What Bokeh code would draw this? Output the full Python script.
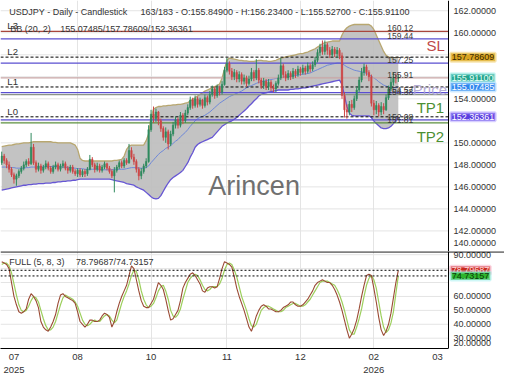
from bokeh.plotting import figure
from bokeh.layouts import column
from bokeh.models import (Span, Label, FixedTicker, Range1d, ColumnDataSource, Grid,
                          PrintfTickFormatter, LinearAxis)
from bokeh.core.properties import value
from bokeh.embed import file_html
from bokeh.resources import INLINE

FONT = "Liberation Sans"

# ---------------- data ----------------
symbol_title = "USDJPY - Daily - Candlestick"
bar_info = "163/183 - O:155.84900 - H:156.23400 - L:155.52700 - C:155.91100"
bb_title = "BB (20, 2)"
bb_values_text = "155.07485/157.78609/152.36361"
stoch_title = "FULL (5, 8, 3)"
stoch_values_text = "78.79687/74.73157"
watermark = "Arincen"

total_slots = 183

opens = [148.2, 148.8, 148.4, 148.0, 147.6, 147.1, 146.7, 147.0, 147.4, 147.7,
         148.0, 148.3, 148.1, 149.6, 148.2, 147.6, 147.9, 147.5, 147.8, 148.1,
         147.7, 147.4, 147.8, 148.0, 147.6, 147.9, 148.1, 147.7, 147.5, 147.8,
         147.4, 147.2, 147.5, 147.1, 147.4, 147.2, 147.6, 148.5, 148.0, 147.6,
         147.9, 147.5, 147.8, 148.1, 147.7, 147.4, 147.0, 147.5, 147.8, 148.2,
         147.9, 148.4, 148.2, 149.3, 148.7, 148.3, 147.6, 147.0, 147.4, 147.9,
         148.3, 151.2, 152.6, 152.2, 152.8, 152.0, 151.3, 150.5, 151.0, 149.9,
         150.8, 151.6, 152.1, 151.6, 152.5, 152.0, 152.7, 153.2, 153.9, 153.4,
         154.0, 153.5, 153.9, 153.4, 154.1, 153.7, 154.4, 154.9, 154.3, 155.0,
         154.6, 155.3, 156.6, 157.2, 156.5, 156.0, 156.4, 155.8, 156.2, 155.6,
         155.9, 155.4, 155.8, 156.4, 155.9, 156.6, 155.7, 155.2, 155.6, 155.1,
         155.5, 155.0, 154.9, 155.4, 155.9, 157.0, 156.2, 155.9, 156.3, 156.0,
         156.5, 156.2, 156.7, 156.4, 156.8, 156.5, 157.0, 156.7, 157.1, 157.5,
         158.2, 158.7, 158.3, 158.9, 158.4, 158.0, 158.5, 158.1, 158.4, 157.9,
         154.3, 153.0, 152.8, 153.5, 153.2, 154.0, 154.8, 155.7, 156.4, 156.9,
         156.4, 156.0, 153.6, 153.0, 153.4, 152.8, 153.3, 153.0, 154.1, 154.9,
         155.5, 155.9, 155.849]
highs = [149.2, 149.0, 148.6, 148.3, 147.8, 147.3, 147.2, 147.6, 147.9, 148.3,
         148.5, 148.6, 150.9, 149.9, 148.4, 148.2, 148.1, 148.0, 148.4, 148.3,
         147.9, 148.0, 148.3, 148.2, 148.1, 148.4, 148.3, 147.9, 148.0, 148.0,
         147.6, 147.7, 147.7, 147.6, 147.6, 147.8, 148.9, 148.7, 148.2, 148.2,
         148.1, 148.0, 148.3, 148.2, 147.9, 147.6, 147.8, 148.0, 148.4, 148.4,
         148.6, 148.6, 149.9, 149.6, 149.0, 148.5, 147.8, 147.7, 148.1, 148.6,
         151.6, 153.0, 153.3, 153.1, 152.9, 152.2, 151.5, 151.4, 151.2, 151.1,
         151.9, 152.4, 152.3, 152.8, 152.7, 153.0, 153.5, 154.2, 154.1, 154.3,
         154.2, 154.1, 154.0, 154.4, 154.3, 154.7, 155.2, 155.1, 155.3, 155.2,
         155.6, 156.9, 157.7, 157.4, 156.8, 156.7, 156.6, 156.5, 156.4, 156.2,
         156.1, 156.1, 156.8, 156.6, 157.6, 156.8, 155.9, 155.9, 155.8, 155.8,
         155.7, 155.3, 155.6, 156.2, 157.7, 157.2, 156.5, 156.6, 156.5, 156.8,
         156.7, 157.0, 156.9, 157.1, 157.0, 157.3, 157.2, 157.4, 157.8, 158.5,
         159.0, 159.3, 159.3, 159.1, 158.7, 158.8, 158.7, 158.7, 158.6, 158.2,
         154.6, 153.5, 153.8, 153.9, 154.3, 155.1, 156.0, 156.8, 157.2, 157.1,
         156.6, 156.2, 153.9, 153.8, 153.6, 153.7, 153.6, 154.4, 155.2, 156.0,
         156.4, 156.3, 156.234]
lows = [148.0, 148.1, 147.7, 147.3, 146.9, 146.3, 146.1, 146.8, 147.2, 147.5,
        147.8, 147.9, 148.0, 148.0, 147.3, 147.4, 147.2, 147.3, 147.6, 147.5,
        147.2, 147.2, 147.6, 147.4, 147.4, 147.7, 147.5, 147.2, 147.3, 147.2,
        147.0, 146.9, 146.9, 146.9, 146.9, 147.0, 147.5, 147.8, 147.3, 147.4,
        147.3, 147.3, 147.6, 147.5, 147.2, 146.8, 145.5, 147.3, 147.6, 147.7,
        147.7, 148.0, 148.1, 148.5, 148.0, 147.3, 146.6, 146.7, 147.2, 147.7,
        148.2, 151.0, 151.8, 151.9, 151.6, 151.0, 150.2, 150.0, 149.4, 149.7,
        150.6, 151.3, 151.3, 151.4, 151.7, 151.8, 152.5, 153.0, 153.1, 153.2,
        153.2, 153.3, 153.1, 153.2, 153.4, 153.5, 154.2, 154.0, 154.1, 154.3,
        154.4, 155.2, 156.4, 156.2, 155.7, 155.7, 155.5, 155.5, 155.3, 155.3,
        155.1, 155.2, 155.6, 155.6, 155.7, 155.4, 154.9, 154.9, 154.8, 154.8,
        154.7, 154.6, 154.6, 155.2, 155.7, 155.9, 155.6, 155.7, 155.7, 155.8,
        155.9, 156.0, 156.1, 156.2, 156.2, 156.3, 156.4, 156.5, 156.9, 157.3,
        157.9, 158.0, 158.0, 158.0, 157.7, 157.8, 157.8, 157.7, 157.6, 154.0,
        152.3, 152.2, 152.5, 152.8, 153.0, 153.8, 154.6, 155.5, 156.1, 156.1,
        155.6, 153.3, 152.5, 152.6, 152.4, 152.5, 152.6, 152.9, 153.9, 154.7,
        155.2, 155.4, 155.527]
closes = [148.8, 148.4, 148.0, 147.6, 147.1, 146.7, 147.0, 147.4, 147.7, 148.0,
          148.3, 148.1, 149.6, 148.2, 147.6, 147.9, 147.5, 147.8, 148.1, 147.7,
          147.4, 147.8, 148.0, 147.6, 147.9, 148.1, 147.7, 147.5, 147.8, 147.4,
          147.2, 147.5, 147.1, 147.4, 147.2, 147.6, 148.5, 148.0, 147.6, 147.9,
          147.5, 147.8, 148.1, 147.7, 147.4, 147.0, 147.5, 147.8, 148.2, 147.9,
          148.4, 148.2, 149.3, 148.7, 148.3, 147.6, 147.0, 147.4, 147.9, 148.3,
          151.2, 152.6, 152.2, 152.8, 152.0, 151.3, 150.5, 151.0, 149.9, 150.8,
          151.6, 152.1, 151.6, 152.5, 152.0, 152.7, 153.2, 153.9, 153.4, 154.0,
          153.5, 153.9, 153.4, 154.1, 153.7, 154.4, 154.9, 154.3, 155.0, 154.6,
          155.3, 156.6, 157.2, 156.5, 156.0, 156.4, 155.8, 156.2, 155.6, 155.9,
          155.4, 155.8, 156.4, 155.9, 156.6, 155.7, 155.2, 155.6, 155.1, 155.5,
          155.0, 154.9, 155.4, 155.9, 157.0, 156.2, 155.9, 156.3, 156.0, 156.5,
          156.2, 156.7, 156.4, 156.8, 156.5, 157.0, 156.7, 157.1, 157.5, 158.2,
          158.7, 158.3, 158.9, 158.4, 158.0, 158.5, 158.1, 158.4, 157.9, 154.3,
          153.0, 152.8, 153.5, 153.2, 154.0, 154.8, 155.7, 156.4, 156.9, 156.4,
          156.0, 153.6, 153.0, 153.4, 152.8, 153.3, 153.0, 154.1, 154.9, 155.5,
          155.9, 155.85, 155.911]

bb_upper = [149.65, 149.7, 149.75, 149.8, 149.8, 149.85, 149.9, 149.9, 149.95, 150.0,
            150.0, 150.0, 150.05, 150.1, 150.1, 150.1, 150.1, 150.1, 150.1, 150.1,
            150.1, 150.05, 150.05, 150.0, 150.0, 150.0, 150.0, 150.0, 150.0, 149.9,
            149.8, 149.4, 148.6, 148.4, 148.35, 148.35, 148.35, 148.35, 148.35, 148.35,
            148.35, 148.35, 148.35, 148.35, 148.35, 148.35, 148.4, 148.4, 148.45, 148.5,
            148.8, 149.4, 149.7, 149.8, 149.8, 149.8, 149.8, 149.8, 149.8, 150.2,
            150.8, 152.3, 153.05, 153.2, 153.3, 153.3, 153.35, 153.35, 153.4, 153.4,
            153.45, 153.45, 153.5, 153.5, 153.55, 153.6, 153.65, 153.8, 153.95, 154.1,
            154.25, 154.4, 154.55, 154.7, 154.8, 154.9, 155.0, 155.1, 155.2, 155.35,
            155.9, 156.7, 157.5, 157.7, 157.65, 157.6, 157.55, 157.5, 157.5, 157.45,
            157.45, 157.4, 157.4, 157.4, 157.45, 157.5, 157.5, 157.45, 157.45, 157.4,
            157.4, 157.45, 157.5, 157.6, 157.7, 157.75, 157.8, 157.85, 157.9, 157.95,
            158.0, 158.05, 158.1, 158.1, 158.2, 158.25, 158.35, 158.45, 158.55, 158.7,
            158.85, 159.0, 159.1, 159.15, 159.2, 159.25, 159.25, 159.25, 159.25, 159.8,
            160.2, 160.45, 160.6, 160.7, 160.75, 160.75, 160.75, 160.75, 160.75, 160.75,
            160.75, 160.6, 160.3, 159.8, 159.3, 158.8, 158.3, 157.95, 157.8, 157.75,
            157.75, 157.75, 157.78609]
bb_middle = [147.8, 147.8, 147.8, 147.8, 147.75, 147.75, 147.7, 147.7, 147.7, 147.7,
             147.75, 147.75, 147.8, 147.8, 147.8, 147.8, 147.8, 147.8, 147.85, 147.85,
             147.85, 147.85, 147.85, 147.8, 147.8, 147.8, 147.8, 147.75, 147.75, 147.7,
             147.7, 147.65, 147.65, 147.65, 147.6, 147.6, 147.6, 147.6, 147.6, 147.6,
             147.6, 147.55, 147.55, 147.55, 147.55, 147.55, 147.6, 147.6, 147.6, 147.6,
             147.6, 147.65, 147.7, 147.75, 147.75, 147.75, 147.7, 147.7, 147.7, 147.75,
             147.9, 148.2, 148.45, 148.7, 148.95, 149.15, 149.3, 149.5, 149.6, 149.75,
             149.95, 150.15, 150.3, 150.55, 150.75, 150.95, 151.2, 151.5, 151.75, 152.0,
             152.2, 152.3, 152.4, 152.5, 152.65, 152.8, 153.0, 153.2, 153.4, 153.6,
             153.75, 153.9, 154.05, 154.2, 154.3, 154.4, 154.5, 154.6, 154.7, 154.85,
             155.0, 155.1, 155.2, 155.3, 155.4, 155.5, 155.55, 155.6, 155.65, 155.7,
             155.75, 155.8, 155.85, 155.85, 155.9, 155.95, 156.0, 156.0, 156.05, 156.1,
             156.1, 156.15, 156.2, 156.25, 156.25, 156.3, 156.35, 156.45, 156.55, 156.65,
             156.75, 156.85, 156.95, 157.05, 157.1, 157.15, 157.2, 157.25, 157.25, 157.2,
             157.05, 156.9, 156.8, 156.7, 156.6, 156.55, 156.5, 156.45, 156.4, 156.3,
             156.2, 156.05, 155.9, 155.75, 155.55, 155.4, 155.25, 155.15, 155.1, 155.05,
             155.0, 155.0, 155.07485]
bb_lower = [145.7, 145.75, 145.8, 145.85, 145.9, 145.95, 146.0, 146.05, 146.1, 146.15,
            146.15, 146.2, 146.2, 146.25, 146.25, 146.3, 146.3, 146.3, 146.35, 146.35,
            146.35, 146.4, 146.4, 146.45, 146.45, 146.5, 146.5, 146.55, 146.55, 146.6,
            146.6, 146.65, 146.7, 146.7, 146.7, 146.7, 146.7, 146.7, 146.7, 146.7,
            146.7, 146.7, 146.7, 146.7, 146.7, 146.65, 146.6, 146.55, 146.5, 146.45,
            146.4, 146.3, 146.25, 146.2, 146.15, 146.0, 145.9, 145.8, 145.7, 145.5,
            145.3, 145.1, 144.95, 144.9, 144.95, 145.2, 145.6, 146.0, 146.35, 146.65,
            146.85, 147.0, 147.15, 147.3, 147.5, 147.85, 148.2, 148.7, 149.1, 149.6,
            149.85, 150.0, 150.1, 150.2, 150.3, 150.4, 150.5, 150.75, 151.0, 151.25,
            151.5, 151.65, 151.8, 151.9, 152.0, 152.15, 152.3, 152.5, 152.7, 152.9,
            153.1, 153.35, 153.55, 153.8, 154.0, 154.25, 154.4, 154.5, 154.55, 154.6,
            154.65, 154.7, 154.75, 154.8, 154.8, 154.8, 154.8, 154.8, 154.85, 154.85,
            154.9, 154.9, 154.95, 155.0, 155.0, 155.05, 155.1, 155.15, 155.2, 155.25,
            155.3, 155.35, 155.4, 155.45, 155.5, 155.55, 155.6, 155.65, 155.7, 155.3,
            154.3, 153.3, 152.7, 152.5, 152.45, 152.45, 152.45, 152.45, 152.45, 152.45,
            152.45, 152.3, 152.0, 151.75, 151.55, 151.35, 151.3, 151.3, 151.35, 151.5,
            151.75, 152.05, 152.36361]

stoch_k = [85, 84, 83, 80, 70, 60, 54, 49, 48, 49,
           51, 58, 62, 60, 57, 52, 42, 38, 36, 35,
           38, 42, 47, 55, 61, 62, 60, 59, 58, 57,
           55, 49, 42, 40, 38, 40, 43, 43, 42, 42,
           43, 46, 48, 47, 45, 38, 42, 49, 55, 60,
           64, 68, 75, 82, 80, 72, 64, 57, 53, 52,
           52, 55, 58, 64, 70, 68, 65, 58, 50, 43,
           44, 47, 50, 57, 66, 70, 73, 76, 77, 75,
           72, 69, 64, 63, 66, 67, 67, 66, 67, 73,
           80, 85, 84, 83, 81, 74, 66, 60, 55, 50,
           44, 38, 35, 40, 46, 50, 53, 54, 53, 51,
           51, 50, 49, 49, 50, 52, 53, 54, 56, 56,
           54, 53, 53, 54, 56, 58, 61, 64, 68, 70,
           71, 72, 71, 70, 70, 68, 65, 61, 56, 50,
           43, 36, 30, 33, 37, 43, 51, 60, 68, 75,
           76, 75, 66, 56, 45, 36, 32, 35, 40, 48,
           59, 70, 78.79687]
stoch_d = [83, 84, 84, 82, 77, 69, 61, 54, 50, 49,
           50, 53, 57, 60, 59, 56, 50, 44, 39, 36,
           36, 38, 42, 48, 54, 59, 61, 60, 59, 58,
           56, 53, 48, 43, 40, 39, 40, 42, 43, 42,
           42, 44, 46, 47, 46, 43, 41, 43, 49, 55,
           60, 64, 69, 75, 79, 78, 72, 64, 58, 54,
           52, 53, 55, 59, 64, 67, 68, 64, 58, 50,
           46, 45, 47, 51, 58, 64, 70, 73, 75, 76,
           75, 72, 68, 65, 64, 65, 67, 67, 67, 69,
           73, 79, 83, 84, 83, 79, 74, 67, 60, 55,
           50, 44, 39, 38, 40, 45, 50, 52, 53, 53,
           52, 51, 50, 49, 49, 50, 52, 53, 54, 55,
           55, 54, 53, 53, 54, 56, 58, 61, 64, 67,
           70, 71, 71, 71, 70, 69, 68, 65, 61, 56,
           50, 43, 36, 33, 33, 38, 44, 51, 60, 68,
           73, 75, 72, 66, 56, 46, 38, 34, 36, 41,
           49, 62, 74.73157]

bb_upper_last = 157.78609
bb_middle_last = 155.07485
bb_lower_last = 152.36361
last_close = 155.911
stoch_k_last = 78.79687
stoch_d_last = 74.73157

level_values = [160.12, 159.44, 157.25, 155.91, 154.57, 154.38, 152.08, 151.81]
bb_level_names = ["L2", "L1", "L0"]
top_level_name = "L3"

price_axis_ticks = [142, 144, 146, 148, 150, 154, 160, 162]
price_grid_ticks = [142, 144, 146, 148, 150, 152, 154, 156, 158, 160, 162]
stoch_axis_ticks = [30, 40, 50, 60, 90]
stoch_grid_ticks = [30, 40, 50, 60, 70, 80, 90]
month_ticks = [5, 31, 61, 92, 122, 152, 178]
month_labels = ["07\n2025", "08", "10", "11", "12", "02\n2026", "03"]
month_grid_ticks = [31, 61, 92, 122, 152]

for arr in (opens, highs, lows, closes, bb_upper, bb_middle, bb_lower, stoch_k, stoch_d):
    assert len(arr) == 163, len(arr)

# ---------------- styles / layout ----------------
UP = "#2f8a5e"
DOWN = "#cc4646"
GRID = "#e4e4e4"
level_colors = ["#a8463c", "#5a4fd0", "#5a4fd0", "#c9a6a6", "#5a4fd0", "#8b9486", "#5a4fd0", "#5d8f3e"]
TXT = "#333333"
TOTAL_W = 504
DATA_W = 448
X0 = -0.5
X_AXIS = total_slots - 0.5                       # where the price axis line sits
X_END = X0 + TOTAL_W * total_slots / DATA_W      # frame also covers the axis strip
PX = total_slots / DATA_W                        # data units per pixel

idx = list(range(len(closes)))
src = ColumnDataSource(dict(
    x=idx, o=opens, h=highs, l=lows, c=closes,
    top=[max(o, c) for o, c in zip(opens, closes)],
    bottom=[min(o, c) for o, c in zip(opens, closes)],
    color=[UP if c >= o else DOWN for o, c in zip(opens, closes)],
))


def right_axis(p, ticks):
    ax = LinearAxis(fixed_location=X_AXIS, ticker=FixedTicker(ticks=ticks),
                    formatter=PrintfTickFormatter(format="%.5f"))
    ax.axis_line_color = "black"
    ax.axis_line_width = 1
    ax.major_tick_out = 0
    ax.major_tick_in = 0
    ax.minor_tick_out = 0
    ax.minor_tick_in = 0
    ax.major_label_standoff = 5
    ax.major_label_text_font = FONT
    ax.major_label_text_font_size = "9px"
    ax.major_label_text_color = TXT
    p.add_layout(ax, "right")


def hlines(p, ys, colors, width=1.0, dash="solid"):
    n = len(ys)
    p.segment(x0=[X0] * n, y0=ys, x1=[X_AXIS] * n, y1=ys, line_color=colors,
              line_width=width, line_dash=dash)


def badge(p, y, text, bg, fg, halo):
    p.add_layout(Label(
        x=X_AXIS + 2.2 * PX, y=y, x_units="data", y_units="data", text=text,
        text_font=FONT, text_font_size="9px", text_color=fg,
        text_baseline="middle", text_align="left",
        background_fill_color=bg, background_fill_alpha=1.0,
        border_line_color=halo, border_line_width=3, border_line_alpha=0.55,
        padding=1))


def axis_text(p, y, text):
    p.add_layout(Label(
        x=X_AXIS + 5 * PX, y=y, x_units="data", y_units="data", text=text,
        text_font=FONT, text_font_size="9px", text_color=TXT,
        text_baseline="middle", text_align="left"))


def txt(p, x, y, text, size, color, align="left", baseline="middle", alpha=1.0):
    p.text(x=[x], y=[y], text=[text], text_font=value(FONT), text_font_size=size,
           text_color=color, text_align=align, text_baseline=baseline, text_alpha=alpha)


def make_fig(height, y_range, x_range, x_axis):
    p = figure(frame_width=TOTAL_W, frame_height=height, x_range=x_range, y_range=y_range,
               y_axis_location=None, x_axis_location=x_axis,
               toolbar_location=None, output_backend="svg",
               min_border_left=0, min_border_top=0, min_border_bottom=0, min_border_right=0,
               outline_line_color=None, background_fill_color="white", border_fill_color="white")
    p.grid.visible = False
    return p


# ---------------- main price panel ----------------
p1 = make_fig(251, Range1d(140.13, 162.93), Range1d(X0, X_END), None)
hlines(p1, price_grid_ticks, [GRID] * len(price_grid_ticks))
p1.add_layout(Grid(dimension=0, ticker=FixedTicker(ticks=month_grid_ticks), grid_line_color=GRID))
right_axis(p1, price_axis_ticks)

# Bollinger band
p1.varea(x=idx, y1=bb_lower, y2=bb_upper, fill_color="#bdbdbd", fill_alpha=0.9)
p1.line(idx, bb_upper, line_color="#b8a770", line_width=1.3)
p1.line(idx, bb_lower, line_color="#6656d4", line_width=1.3)
p1.line(idx, bb_middle, line_color="#6f88d8", line_width=1)

# level lines
hlines(p1, level_values, level_colors, width=1.3)
hlines(p1, [bb_upper_last, bb_middle_last, bb_lower_last], ["black"] * 3, width=1, dash="3 2")

# candles
p1.segment(x0="x", y0="l", x1="x", y1="h", line_color="color", line_width=1, source=src)
p1.vbar(x="x", width=0.6, top="top", bottom="bottom", fill_color="color", line_color="color",
        line_width=0.5, source=src)

# texts
txt(p1, 103.1, 146.07, watermark, "27px", "#707070", align="center")
txt(p1, 3.1, 161.84, symbol_title, "9px", TXT)
txt(p1, 56.7, 161.84, bar_info, "9px", TXT)
txt(p1, 3.5, 160.31, bb_title, "9px", TXT)
txt(p1, 23.9, 160.31, bb_values_text, "9px", TXT)
txt(p1, 2.3, level_values[0], top_level_name, "9.5px", TXT, baseline="bottom")
for name, v in zip(bb_level_names, (bb_upper_last, bb_middle_last, bb_lower_last)):
    txt(p1, 2.3, v, name, "9.5px", TXT, baseline="bottom")
for v in level_values:
    txt(p1, 157.5, v, f"{v:.2f}", "8.5px", "#3a3a3a", baseline="bottom")
txt(p1, 173.5, 158.83, "SL", "15px", "#bf4848")
txt(p1, X_AXIS - 0.6, 154.81, "Price", "15px", "#aaa3cf", align="right", alpha=0.9)
txt(p1, 169.5, 153.24, "TP1", "15px", "#4b8f32")
txt(p1, 169.5, 150.62, "TP2", "15px", "#4b8f32")

# axis badges
badge(p1, bb_upper_last, f"{bb_upper_last:.5f}", "#d8a321", "#3a2a00", "#f0d070")
badge(p1, last_close, f"{last_close:.5f}", "#22a48e", "#e8fff4", "#a8f0ec")
badge(p1, bb_middle_last, f"{bb_middle_last:.5f}", "#2f86ee", "#ffffff", "#a8d8ff")
badge(p1, bb_lower_last, f"{bb_lower_last:.5f}", "#5b3fe0", "#ffffff", "#b8a8ff")
axis_text(p1, 140.92, "140.00000")

# ---------------- stochastic panel ----------------
p2 = make_fig(97, Range1d(22.6, 92.3), p1.x_range, "below")
hlines(p2, stoch_grid_ticks, [GRID] * len(stoch_grid_ticks))
p2.add_layout(Grid(dimension=0, ticker=FixedTicker(ticks=month_grid_ticks), grid_line_color=GRID))
right_axis(p2, stoch_axis_ticks)

xa = p2.xaxis[0]
xa.ticker = FixedTicker(ticks=month_ticks)
xa.major_label_overrides = {t: lab for t, lab in zip(month_ticks, month_labels)}
xa.bounds = (X0, X_AXIS)
xa.axis_line_color = "black"
xa.major_tick_out = 0
xa.major_tick_in = 0
xa.minor_tick_out = 0
xa.minor_tick_in = 0
xa.major_label_standoff = 2
xa.major_label_text_font = FONT
xa.major_label_text_font_size = "9.5px"
xa.major_label_text_color = TXT

p2.add_layout(Span(location=92.1, dimension="width", line_color="black", line_width=1.2))
p2.line(idx, stoch_d, line_color="#9ccf5c", line_width=1.2)
p2.line(idx, stoch_k, line_color="#9a4a34", line_width=1.1)
hlines(p2, [stoch_k_last, stoch_d_last], ["black"] * 2, width=1, dash="2 2")

txt(p2, 3.1, 84.56, stoch_title, "9px", TXT)
txt(p2, 30.3, 84.56, stoch_values_text, "9px", TXT)

badge(p2, stoch_k_last, f"{stoch_k_last:.5f}", "#c8281e", "#ffd6d6", "#f7b3c8")
badge(p2, stoch_d_last, f"{stoch_d_last:.5f}", "#2db52d", "#0a3a0a", "#a8f0f0")
axis_text(p2, 26.5, "20.00000")

layout = column(p1, p2, spacing=0)
open("out.html", "w").write(file_html(layout, INLINE))
